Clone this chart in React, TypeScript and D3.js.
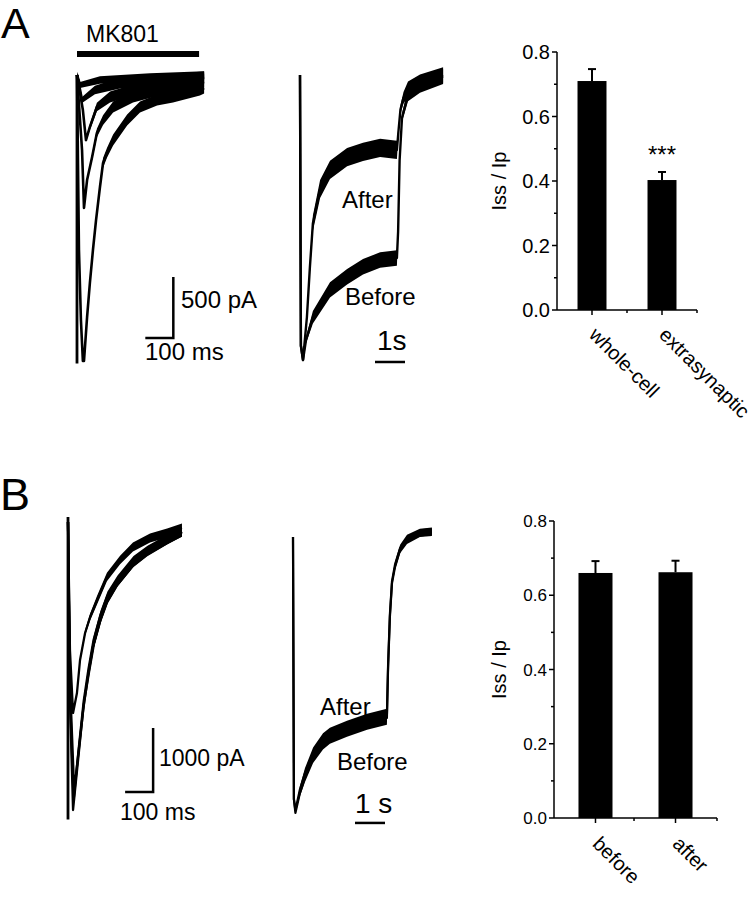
import React from 'react';
import * as d3 from 'd3';

const FONT = 'Arial, "Liberation Sans", Helvetica, sans-serif';

// ---------- Panel A, left: MK801 progressive block (t ms, I pA, noise half-width pA)
const mk801Sweep1: number[][] = [[0,0,0],[7,-1434,0],[14,-2008,0],[21,-2344,0],[25,-2344,0],[36,-1984,0],[46,-1705,15],[57,-1434,20],[68,-1189,25],[82,-918,35],[93,-721,40],[107,-639,40],[129,-533,45],[179,-369,45],[225,-262,45],[286,-205,45],[343,-180,45],[439,-123,45],[454,-107,45]];
const mk801Sweep2: number[][] = [[0,0,0],[18,-615,0],[25,-1090,0],[36,-861,15],[54,-672,25],[71,-475,35],[93,-369,40],[129,-262,45],[200,-180,45],[321,-107,45],[454,-57,45]];
const mk801Sweep3: number[][] = [[0,0,0],[21,-287,15],[32,-533,15],[46,-426,25],[71,-262,35],[118,-180,45],[200,-123,45],[321,-66,45],[454,-25,45]];
const mk801Sweep4: number[][] = [[0,0,25],[11,-123,25],[18,-205,25],[64,-123,35],[154,-66,45],[296,-41,45],[454,-16,45]];
const mk801Sweep5: number[][] = [[0,0,25],[11,-82,25],[82,-41,30],[261,-16,30],[454,0,30]];
const mk801Onset: number[][] = [[0,0,0],[0,-2365,0]];
const mk801Application = [0, 436]; // ms
const scaleBarAL = { t0: 244, t1: 344, i0: -2156, i1: -1656 }; // 100 ms, 500 pA

// ---------- Panel A, middle: normalized current (t s, I/Ip, noise)
const extraBeforeA: number[][] = [[0,0,0.02],[0.03,-0.95,0],[0.1,-1.0,0],[0.2,-0.93,0.012],[0.43,-0.85,0.022],[1.0,-0.754,0.027],[1.57,-0.708,0.027],[2.1,-0.673,0.027],[2.67,-0.649,0.027],[3.23,-0.642,0.027],[3.27,-0.55,0.01],[3.32,-0.3,0.01],[3.4,-0.15,0.015],[3.6,-0.07,0.022],[4.0,-0.035,0.027],[4.77,-0.005,0.027]];
const extraAfterA: number[][] = [[0,0,0.02],[0.03,-0.95,0],[0.1,-1.0,0],[0.23,-0.85,0.012],[0.33,-0.674,0.022],[0.43,-0.52,0.027],[0.67,-0.40,0.032],[1.0,-0.333,0.032],[1.57,-0.288,0.032],[2.1,-0.27,0.032],[2.67,-0.256,0.032],[3.23,-0.263,0.032],[3.28,-0.2,0.015],[3.35,-0.12,0.015],[3.45,-0.08,0.02],[3.6,-0.05,0.027],[4.0,-0.025,0.027],[4.77,0.0,0.027]];
const scaleBarAM = { t0: 2.5, t1: 3.5, i: -1.007 }; // 1 s

// ---------- Panel B, left: control sweeps (t ms, I pA, noise)
const ctrlSweepFast: number[][] = [[0,0,0],[7,-2000,0],[18,-2984,0],[32,-2672,25],[43,-2156,35],[61,-1734,45],[79,-1484,55],[104,-1219,65],[139,-859,65],[186,-594,65],[232,-391,70],[293,-250,70],[354,-172,70],[407,-94,70]];
const ctrlSweep1: number[][] = [[0,0,0],[7,-2781,0],[18,-4500,0],[36,-3719,25],[54,-2938,35],[71,-2422,45],[89,-1953,55],[114,-1531,65],[139,-1219,65],[175,-953,65],[232,-641,70],[282,-469,70],[354,-281,70],[407,-156,70]];
const ctrlSweep2: number[][] = [[0,0,0],[7,-2700,0],[20,-4350,0],[38,-3550,25],[56,-2800,35],[73,-2300,45],[91,-1850,55],[116,-1450,65],[141,-1150,65],[177,-900,65],[234,-600,70],[284,-440,70],[356,-265,70],[407,-150,70]];
const ctrlSweep3: number[][] = [[0,0,0],[8,-2600,0],[22,-4200,0],[40,-3500,25],[58,-2800,35],[75,-2350,45],[93,-1900,55],[118,-1500,65],[143,-1200,65],[179,-930,65],[236,-620,70],[286,-450,70],[358,-270,70],[407,-160,70]];
const ctrlOnset: number[][] = [[0,80,0],[0,-4650,0]];
const scaleBarBL = { t0: 204, t1: 304, i0: -4219, i1: -3219 }; // 100 ms, 1000 pA

// ---------- Panel B, middle: normalized (t s, I/Ip, noise)
const ctrlBeforeB: number[][] = [[0,0,0.01],[0.03,-0.95,0],[0.08,-1.0,0],[0.23,-0.928,0.012],[0.4,-0.87,0.018],[0.67,-0.797,0.022],[1.0,-0.746,0.024],[1.23,-0.725,0.024],[1.8,-0.7,0.024],[2.47,-0.674,0.024],[3.13,-0.656,0.024],[3.17,-0.471,0.005],[3.23,-0.29,0.005],[3.3,-0.167,0.008],[3.4,-0.109,0.01],[3.57,-0.047,0.012],[3.8,-0.011,0.014],[4.23,0.014,0.014],[4.63,0.018,0.014]];
const ctrlAfterB: number[][] = [[0,0,0.01],[0.03,-0.95,0],[0.08,-0.99,0],[0.23,-0.915,0.012],[0.4,-0.855,0.018],[0.67,-0.785,0.022],[1.0,-0.735,0.024],[1.23,-0.715,0.024],[1.8,-0.69,0.024],[2.47,-0.664,0.024],[3.13,-0.646,0.024],[3.17,-0.46,0.005],[3.23,-0.28,0.005],[3.3,-0.16,0.008],[3.4,-0.1,0.01],[3.57,-0.04,0.012],[3.8,-0.006,0.014],[4.23,0.016,0.014],[4.63,0.02,0.014]];
const scaleBarBM = { t0: 2.067, t1: 3.067, i: -1.036 }; // 1 s

// ---------- Bar charts
const barCatsA = ['whole-cell', 'extrasynaptic'];
const barMeansA = [0.71, 0.403];
const barErrA = [0.037, 0.025];
const barCatsB = ['before', 'after'];
const barMeansB = [0.66, 0.662];
const barErrB = [0.032, 0.031];
const yTicks = [0, 0.2, 0.4, 0.6, 0.8];
const yMinorTicks = [0.1, 0.3, 0.5, 0.7];

type Sc = d3.ScaleLinear<number, number>;

function Trace({ data, x, y, w = 2 }: { data: number[][]; x: Sc; y: Sc; w?: number }) {
  const area = d3.area<number[]>()
    .x(d => x(d[0]))
    .y0(d => y(d[1] - (d[2] || 0)))
    .y1(d => y(d[1] + (d[2] || 0)));
  const line = d3.line<number[]>().x(d => x(d[0])).y(d => y(d[1]));
  return (
    <g>
      <path d={area(data) || ''} fill="#000" />
      <path d={line(data) || ''} fill="none" stroke="#000" strokeWidth={w} strokeLinejoin="round" />
    </g>
  );
}

function BarPanel(props: {
  cats: string[]; means: number[]; errs: number[];
  x0: number; x1: number; yTop: number; yBot: number;
  pi: number; po: number; tickFont: number; labelDy: number; yLabelX: number;
}) {
  const { cats, means, errs, x0, x1, yTop, yBot, pi, po, tickFont, labelDy, yLabelX } = props;
  const y = d3.scaleLinear().domain([0, 0.8]).range([yBot, yTop]);
  const x = d3.scaleBand<string>().domain(cats).range([x0, x1]).paddingInner(pi).paddingOuter(po);
  const bw = x.bandwidth();
  const step = x.step();
  const minorX = [x0 + step, x1];
  return (
    <g fontFamily={FONT}>
      {cats.map((c, i) => {
        const cx = (x(c) as number) + bw / 2;
        return (
          <g key={c}>
            <line x1={cx} x2={cx} y1={y(means[i])} y2={y(means[i] + errs[i])} stroke="#000" strokeWidth={2} />
            <line x1={cx - 4} x2={cx + 4} y1={y(means[i] + errs[i])} y2={y(means[i] + errs[i])} stroke="#000" strokeWidth={2} />
            <rect x={x(c)} y={y(means[i])} width={bw} height={yBot - y(means[i])} fill="#000" />
            <line x1={cx} x2={cx} y1={yBot} y2={yBot + 5} stroke="#000" strokeWidth={1.5} />
            <text x={cx - 4} y={yBot + labelDy} fontSize={20} transform={`rotate(45 ${cx - 4} ${yBot + labelDy})`}>{c}</text>
          </g>
        );
      })}
      {minorX.map((mx, i) => (
        <line key={'mx' + i} x1={mx} x2={mx} y1={yBot} y2={yBot + 3} stroke="#000" strokeWidth={1.5} />
      ))}
      <line x1={x0} x2={x1} y1={yBot} y2={yBot} stroke="#000" strokeWidth={1.5} />
      <line x1={x0} x2={x0} y1={yBot} y2={yTop} stroke="#000" strokeWidth={1.5} />
      {yTicks.map(t => (
        <g key={'yt' + t}>
          <line x1={x0 - 5} x2={x0} y1={y(t)} y2={y(t)} stroke="#000" strokeWidth={1.5} />
          <text x={x0 - 7} y={y(t) + tickFont * 0.36} fontSize={tickFont} textAnchor="end">{t.toFixed(1)}</text>
        </g>
      ))}
      {yMinorTicks.map(t => (
        <line key={'ym' + t} x1={x0 - 3} x2={x0} y1={y(t)} y2={y(t)} stroke="#000" strokeWidth={1.5} />
      ))}
      <text x={yLabelX} y={(yTop + yBot) / 2} fontSize={20} textAnchor="middle"
        transform={`rotate(-90 ${yLabelX} ${(yTop + yBot) / 2})`}>Iss / Ip</text>
    </g>
  );
}

export default function App() {
  // Panel A left scales
  const xAL = d3.scaleLinear().domain([0, 100]).range([77, 105]);
  const yAL = d3.scaleLinear().domain([0, -500]).range([75, 136]);
  // Panel A middle
  const xAM = d3.scaleLinear().domain([0, 1]).range([300, 330]);
  const yAM = d3.scaleLinear().domain([0, -1]).range([75, 360]);
  // Panel B left
  const xBL = d3.scaleLinear().domain([0, 100]).range([68, 96]);
  const yBL = d3.scaleLinear().domain([0, -1000]).range([522, 586]);
  // Panel B middle
  const xBM = d3.scaleLinear().domain([0, 1]).range([293, 323]);
  const yBM = d3.scaleLinear().domain([0, -1]).range([537, 813]);

  const yA = d3.scaleLinear().domain([0, 0.8]).range([310, 52]);

  return (
    <svg width={753} height={900} style={{ position: 'absolute', left: 0, top: 0, background: '#fff' }}
      fontFamily={FONT}>
      <rect x={0} y={0} width={753} height={900} fill="#fff" />
      {/* Panel labels */}
      <text x={1} y={38} fontSize={43}>A</text>
      <text x={0} y={510} fontSize={45}>B</text>

      {/* ---------- A left */}
      <text x={86} y={42} fontSize={23}>MK801</text>
      <line x1={xAL(mk801Application[0])} x2={xAL(mk801Application[1])} y1={54} y2={54} stroke="#000" strokeWidth={6} />
      <Trace data={mk801Onset} x={xAL} y={yAL} w={2.8} />
      {[mk801Sweep5, mk801Sweep4, mk801Sweep3, mk801Sweep2, mk801Sweep1].map((d, i) => (
        <Trace key={i} data={d} x={xAL} y={yAL} w={2.6} />
      ))}
      <path d={`M${xAL(scaleBarAL.t0)},${yAL(scaleBarAL.i0)}H${xAL(scaleBarAL.t1)}V${yAL(scaleBarAL.i1)}`}
        fill="none" stroke="#000" strokeWidth={2.5} />
      <text x={181} y={308} fontSize={24}>500 pA</text>
      <text x={145} y={360} fontSize={24}>100 ms</text>

      {/* ---------- A middle */}
      <Trace data={extraBeforeA} x={xAM} y={yAM} w={2.4} />
      <Trace data={extraAfterA} x={xAM} y={yAM} w={2.4} />
      <text x={342} y={208} fontSize={24}>After</text>
      <text x={345} y={305} fontSize={24}>Before</text>
      <line x1={xAM(scaleBarAM.t0)} x2={xAM(scaleBarAM.t1)} y1={yAM(scaleBarAM.i)} y2={yAM(scaleBarAM.i)} stroke="#000" strokeWidth={2.5} />
      <text x={377} y={350} fontSize={28}>1s</text>

      {/* ---------- A right bars */}
      <BarPanel cats={barCatsA} means={barMeansA} errs={barErrA} x0={557} x1={697} yTop={52} yBot={310}
        pi={0.586} po={0.293} tickFont={20} labelDy={26} yLabelX={506} />
      <text x={662} y={yA(barMeansA[1] + barErrA[1]) - 9} fontSize={24} textAnchor="middle">***</text>

      {/* ---------- B left */}
      <Trace data={ctrlOnset} x={xBL} y={yBL} w={2.8} />
      {[ctrlSweep3, ctrlSweep2, ctrlSweep1, ctrlSweepFast].map((d, i) => (
        <Trace key={i} data={d} x={xBL} y={yBL} w={2.3} />
      ))}
      <path d={`M${xBL(scaleBarBL.t0)},${yBL(scaleBarBL.i0)}H${xBL(scaleBarBL.t1)}V${yBL(scaleBarBL.i1)}`}
        fill="none" stroke="#000" strokeWidth={2.5} />
      <text x={159} y={766} fontSize={23}>1000 pA</text>
      <text x={120} y={820} fontSize={23}>100 ms</text>

      {/* ---------- B middle */}
      <Trace data={ctrlBeforeB} x={xBM} y={yBM} w={2.2} />
      <Trace data={ctrlAfterB} x={xBM} y={yBM} w={2.2} />
      <text x={320} y={715} fontSize={24}>After</text>
      <text x={337} y={770} fontSize={24}>Before</text>
      <line x1={xBM(scaleBarBM.t0)} x2={xBM(scaleBarBM.t1)} y1={yBM(scaleBarBM.i)} y2={yBM(scaleBarBM.i)} stroke="#000" strokeWidth={2.5} />
      <text x={355} y={813} fontSize={28}>1 s</text>

      {/* ---------- B right bars */}
      <BarPanel cats={barCatsB} means={barMeansB} errs={barErrB} x0={554} x1={717} yTop={521} yBot={818}
        pi={0.575} po={0.306} tickFont={17} labelDy={27} yLabelX={506} />
    </svg>
  );
}
